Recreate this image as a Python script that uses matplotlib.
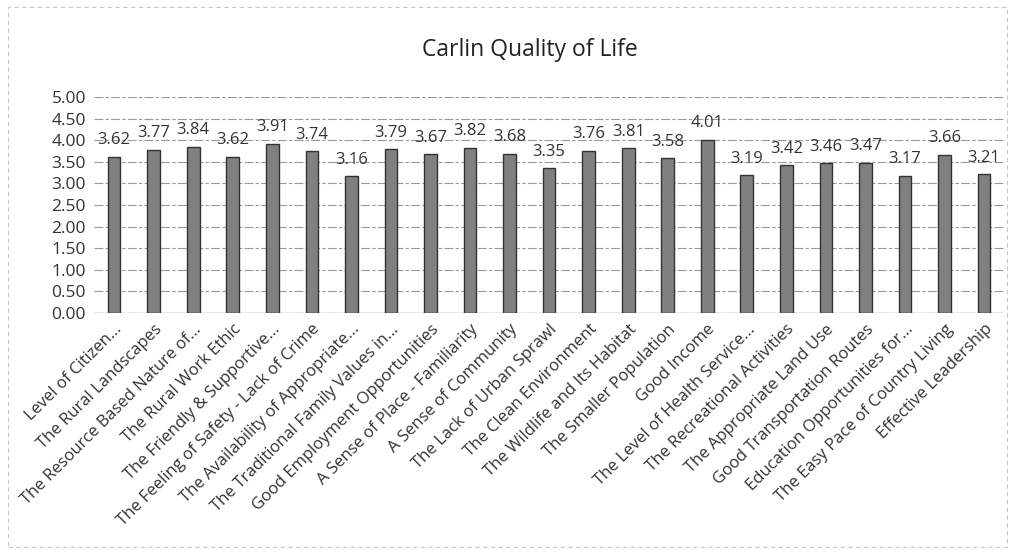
import matplotlib
matplotlib.use("Agg")
import matplotlib.pyplot as plt
from matplotlib.patches import Rectangle

categories = [
    "Level of Citizen...", "The Rural Landscapes", "The Resource Based Nature of...",
    "The Rural Work Ethic", "The Friendly & Supportive...", "The Feeling of Safety - Lack of Crime",
    "The Availability of Appropriate...", "The Traditional Family Values in...",
    "Good Employment Opportunities", "A Sense of Place - Familiarity", "A Sense of Community",
    "The Lack of Urban Sprawl", "The Clean Environment", "The Wildlife and Its Habitat",
    "The Smaller Population", "Good Income", "The Level of Health Service...",
    "The Recreational Activities", "The Appropriate Land Use", "Good Transportation Routes",
    "Education Opportunities for...", "The Easy Pace of Country Living", "Effective Leadership",
]
values = [3.62, 3.77, 3.84, 3.62, 3.91, 3.74, 3.16, 3.79, 3.67, 3.82, 3.68, 3.35,
          3.76, 3.81, 3.58, 4.01, 3.19, 3.42, 3.46, 3.47, 3.17, 3.66, 3.21]
yticks = [0, 0.5, 1.0, 1.5, 2.0, 2.5, 3.0, 3.5, 4.0, 4.5, 5.0]

plt.rcParams['font.family'] = ['Open Sans', 'DejaVu Sans']

fig = plt.figure(figsize=(10.15, 5.54), dpi=100)
ax = fig.add_axes([0.093, 0.435, 0.896, 0.39])

x = list(range(len(categories)))
ax.bar(x, values, width=0.32, color="#808080", edgecolor="#333333", linewidth=1.0, zorder=3)
for xi, v in zip(x, values):
    ax.text(xi, v + 0.2, f"{v:.2f}", ha="center", va="bottom", fontsize=12, color="#333333", zorder=4)

ax.set_xlim(-0.5, len(categories) - 0.5)
ax.set_ylim(0, 5)
ax.set_yticks(yticks)
ax.set_yticklabels([f"{t:.2f}" for t in yticks], fontsize=12.5, color="#333333")
ax.yaxis.grid(True, color="#9a9a9a", linewidth=0.8, linestyle=(0, (8, 2, 3, 2)))
ax.set_axisbelow(True)
ax.set_xticks(x)
ax.set_xticklabels(categories, rotation=45, ha="right", rotation_mode="anchor", fontsize=12, color="#333333")
ax.tick_params(axis="both", length=0, pad=6)
for s in ax.spines.values():
    s.set_visible(False)
ax.axhline(0, color="#777777", linewidth=0.9, zorder=2)

fig.text(0.522, 0.91, "Carlin Quality of Life", ha="center", va="center", fontsize=16.5, color="#222222")

fig.patches.append(Rectangle((0.008, 0.012), 0.984, 0.975, transform=fig.transFigure,
                             fill=False, edgecolor="#c8c8c8", linewidth=0.8, linestyle=(0, (4, 3))))

fig.savefig("out.png", dpi=100)
